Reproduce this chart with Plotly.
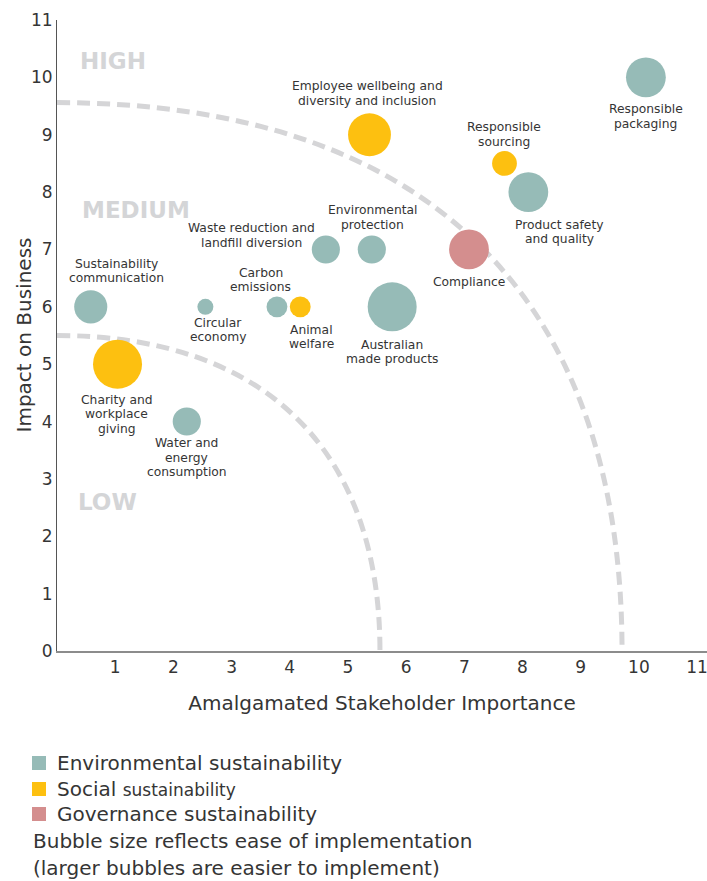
import plotly.graph_objects as go

# ---------------- data ----------------
LABELS = [
    "Responsible<br>packaging",
    "Employee wellbeing and<br>diversity and inclusion",
    "Responsible<br>sourcing",
    "Product safety<br>and quality",
    "Compliance",
    "Environmental<br>protection",
    "Australian<br>made products",
    "Waste reduction and<br>landfill diversion",
    "Sustainability<br>communication",
    "Circular<br>economy",
    "Carbon<br>emissions",
    "Animal<br>welfare",
    "Charity and<br>workplace<br>giving",
    "Water and<br>energy<br>consumption",
]
STAKEHOLDER_IMPORTANCE = [10.12, 5.37, 7.69, 8.10, 7.08, 5.41, 5.76, 4.62, 0.58, 2.55, 3.78, 4.18, 1.04, 2.23]
BUSINESS_IMPACT = [10.0, 9.0, 8.5, 8.0, 7.0, 7.0, 6.0, 7.0, 6.0, 6.0, 6.0, 6.0, 5.0, 4.0]
EASE = [6.2, 7.2, 2.4, 6.2, 6.2, 3.1, 9.4, 3.1, 4.3, 1.0, 1.7, 1.7, 9.4, 3.1]
CATEGORY = ["Environmental", "Social", "Social", "Environmental", "Governance",
            "Environmental", "Environmental", "Environmental", "Environmental",
            "Environmental", "Environmental", "Social", "Social", "Environmental"]

CATEGORIES = ["Environmental", "Social", "Governance"]
LEGEND_NAMES = [
    "Environmental sustainability",
    'Social <span style="font-size:17px">sustainability</span>',
    "Governance sustainability",
]
REGIONS = ["HIGH", "MEDIUM", "LOW"]
X_TICKS = list(range(1, 12))
Y_TICKS = list(range(0, 12))
X_TITLE = "Amalgamated Stakeholder Importance"
Y_TITLE = "Impact on Business"
NOTE_LINES = ["Bubble size reflects ease of implementation",
              "(larger bubbles are easier to implement)"]

# ---------------- styles / layout ----------------
W, H = 707, 881
ML, MR, MT, MB = 57, 0, 20, 230
PW, PH = W - ML - MR, H - MT - MB

COLORS = {"Environmental": "#96bbb7", "Social": "#fdc010", "Governance": "#d48e8e"}
FONT = "DejaVu Sans"
TEXT = "#353535"
ARC_COLOR = "#d5d5d7"
REGION_COLOR = "#d4d5d7"

# label block offsets from bubble centre (px, right / down)
LABEL_OFFSETS = [(0, 39), (-2, -41), (0, -29), (31, 40), (0, 33), (1, -32), (0, 45),
                 (-74, -14), (26, -36), (13, 23), (-16, -27), (11, 30), (-1, 50), (0, 36)]
LABEL_FONT_SIZE = 12.3
LINE_STEP = 14.6
REGION_POS = [(0.36, 10.29), (0.39, 7.69), (0.33, 2.60)]
# dashed boundary arcs: (x-radius, y-radius, bezier handle factor)
ARCS = [(5.55, 5.50, 0.64), (9.71, 9.56, 0.65)]

# legend / notes placement (px from top-left of the page)
LEGEND_SWATCH_X = (32, 46)
LEGEND_TEXT_X = 55
LEGEND_ROWS_Y = [763, 789, 814]
NOTE_X = 31
NOTE_ROWS_Y = [841, 868]
Y_TITLE_X = 23

SIZE_MAX_PX = 49
sizeref = 2.0 * max(EASE) / SIZE_MAX_PX ** 2


def px_to_paper(px, py):
    return (px - ML) / PW, (H - MB - py) / PH


fig = go.Figure()

for cat, name in zip(CATEGORIES, LEGEND_NAMES):
    idx = [i for i, c in enumerate(CATEGORY) if c == cat]
    fig.add_trace(go.Scatter(
        x=[STAKEHOLDER_IMPORTANCE[i] for i in idx],
        y=[BUSINESS_IMPACT[i] for i in idx],
        mode="markers", name=name,
        marker=dict(size=[EASE[i] for i in idx], sizemode="area", sizeref=sizeref,
                    color=COLORS[cat], opacity=1, line=dict(width=0)),
        text=[LABELS[i].replace("<br>", " ") for i in idx],
        hovertemplate="%{text}<extra></extra>",
        showlegend=False,
    ))

annotations = []
for i, lab in enumerate(LABELS):
    lines = lab.split("<br>")
    n = len(lines)
    dx, dy = LABEL_OFFSETS[i]
    for j, ln in enumerate(lines):
        off = dy + (j - (n - 1) / 2) * LINE_STEP
        annotations.append(dict(
            x=STAKEHOLDER_IMPORTANCE[i], y=BUSINESS_IMPACT[i], xref="x", yref="y",
            text=ln, showarrow=False, xanchor="center", yanchor="middle",
            xshift=dx, yshift=-off, borderpad=0,
            font=dict(family=FONT, size=LABEL_FONT_SIZE, color=TEXT),
        ))

for name, (rx, ry) in zip(REGIONS, REGION_POS):
    annotations.append(dict(
        x=rx, y=ry, xref="x", yref="y", text=f"<b>{name}</b>", showarrow=False,
        xanchor="left", yanchor="middle",
        font=dict(family=FONT, size=23, color=REGION_COLOR),
    ))

# y-axis title
tx, _ = px_to_paper(Y_TITLE_X, 0)
annotations.append(dict(
    x=tx, y=0.5, xref="paper", yref="paper", text=Y_TITLE, textangle=-90,
    showarrow=False, xanchor="center", yanchor="middle",
    font=dict(family=FONT, size=20, color=TEXT),
))

shapes = []
for a, b, k in ARCS:
    shapes.append(dict(
        type="path", xref="x", yref="y", layer="below",
        path=f"M 0,{b} C {k * a},{b} {a},{k * b} {a},0",
        line=dict(color=ARC_COLOR, width=5, dash="13px,7px"),
    ))

# legend (drawn manually so that its rows match the original spacing)
for cat, name, ry in zip(CATEGORIES, LEGEND_NAMES, LEGEND_ROWS_Y):
    x0, y0 = px_to_paper(LEGEND_SWATCH_X[0], ry - 7)
    x1, y1 = px_to_paper(LEGEND_SWATCH_X[1], ry + 7)
    shapes.append(dict(type="rect", xref="paper", yref="paper",
                       x0=x0, x1=x1, y0=y1, y1=y0,
                       fillcolor=COLORS[cat], line=dict(width=0)))
    ax, ay = px_to_paper(LEGEND_TEXT_X, ry)
    annotations.append(dict(
        x=ax, y=ay, xref="paper", yref="paper", text=name, showarrow=False,
        xanchor="left", yanchor="middle",
        font=dict(family=FONT, size=20, color=TEXT),
    ))

for ln, ry in zip(NOTE_LINES, NOTE_ROWS_Y):
    ax, ay = px_to_paper(NOTE_X, ry)
    annotations.append(dict(
        x=ax, y=ay, xref="paper", yref="paper",
        text=ln, showarrow=False, xanchor="left", yanchor="middle",
        font=dict(family=FONT, size=20, color=TEXT),
    ))

fig.update_layout(
    width=W, height=H, autosize=False,
    margin=dict(l=ML, r=MR, t=MT, b=MB),
    paper_bgcolor="white", plot_bgcolor="white",
    font=dict(family=FONT, color=TEXT),
    xaxis=dict(range=[0, 11.17], tickvals=X_TICKS, showgrid=False, zeroline=False,
               showline=True, linecolor="#8c8c8c", linewidth=2, ticks="",
               ticklabeloverflow="allow",
               tickfont=dict(family=FONT, size=17, color=TEXT),
               title=dict(text=X_TITLE, font=dict(family=FONT, size=20, color=TEXT), standoff=20)),
    yaxis=dict(range=[0, 11], tickvals=Y_TICKS, showgrid=False, zeroline=False,
               showline=True, linecolor="#555555", linewidth=1, ticks="",
               tickfont=dict(family=FONT, size=17, color=TEXT)),
    showlegend=False,
    annotations=annotations,
    shapes=shapes,
)

fig.write_html("out.html")
